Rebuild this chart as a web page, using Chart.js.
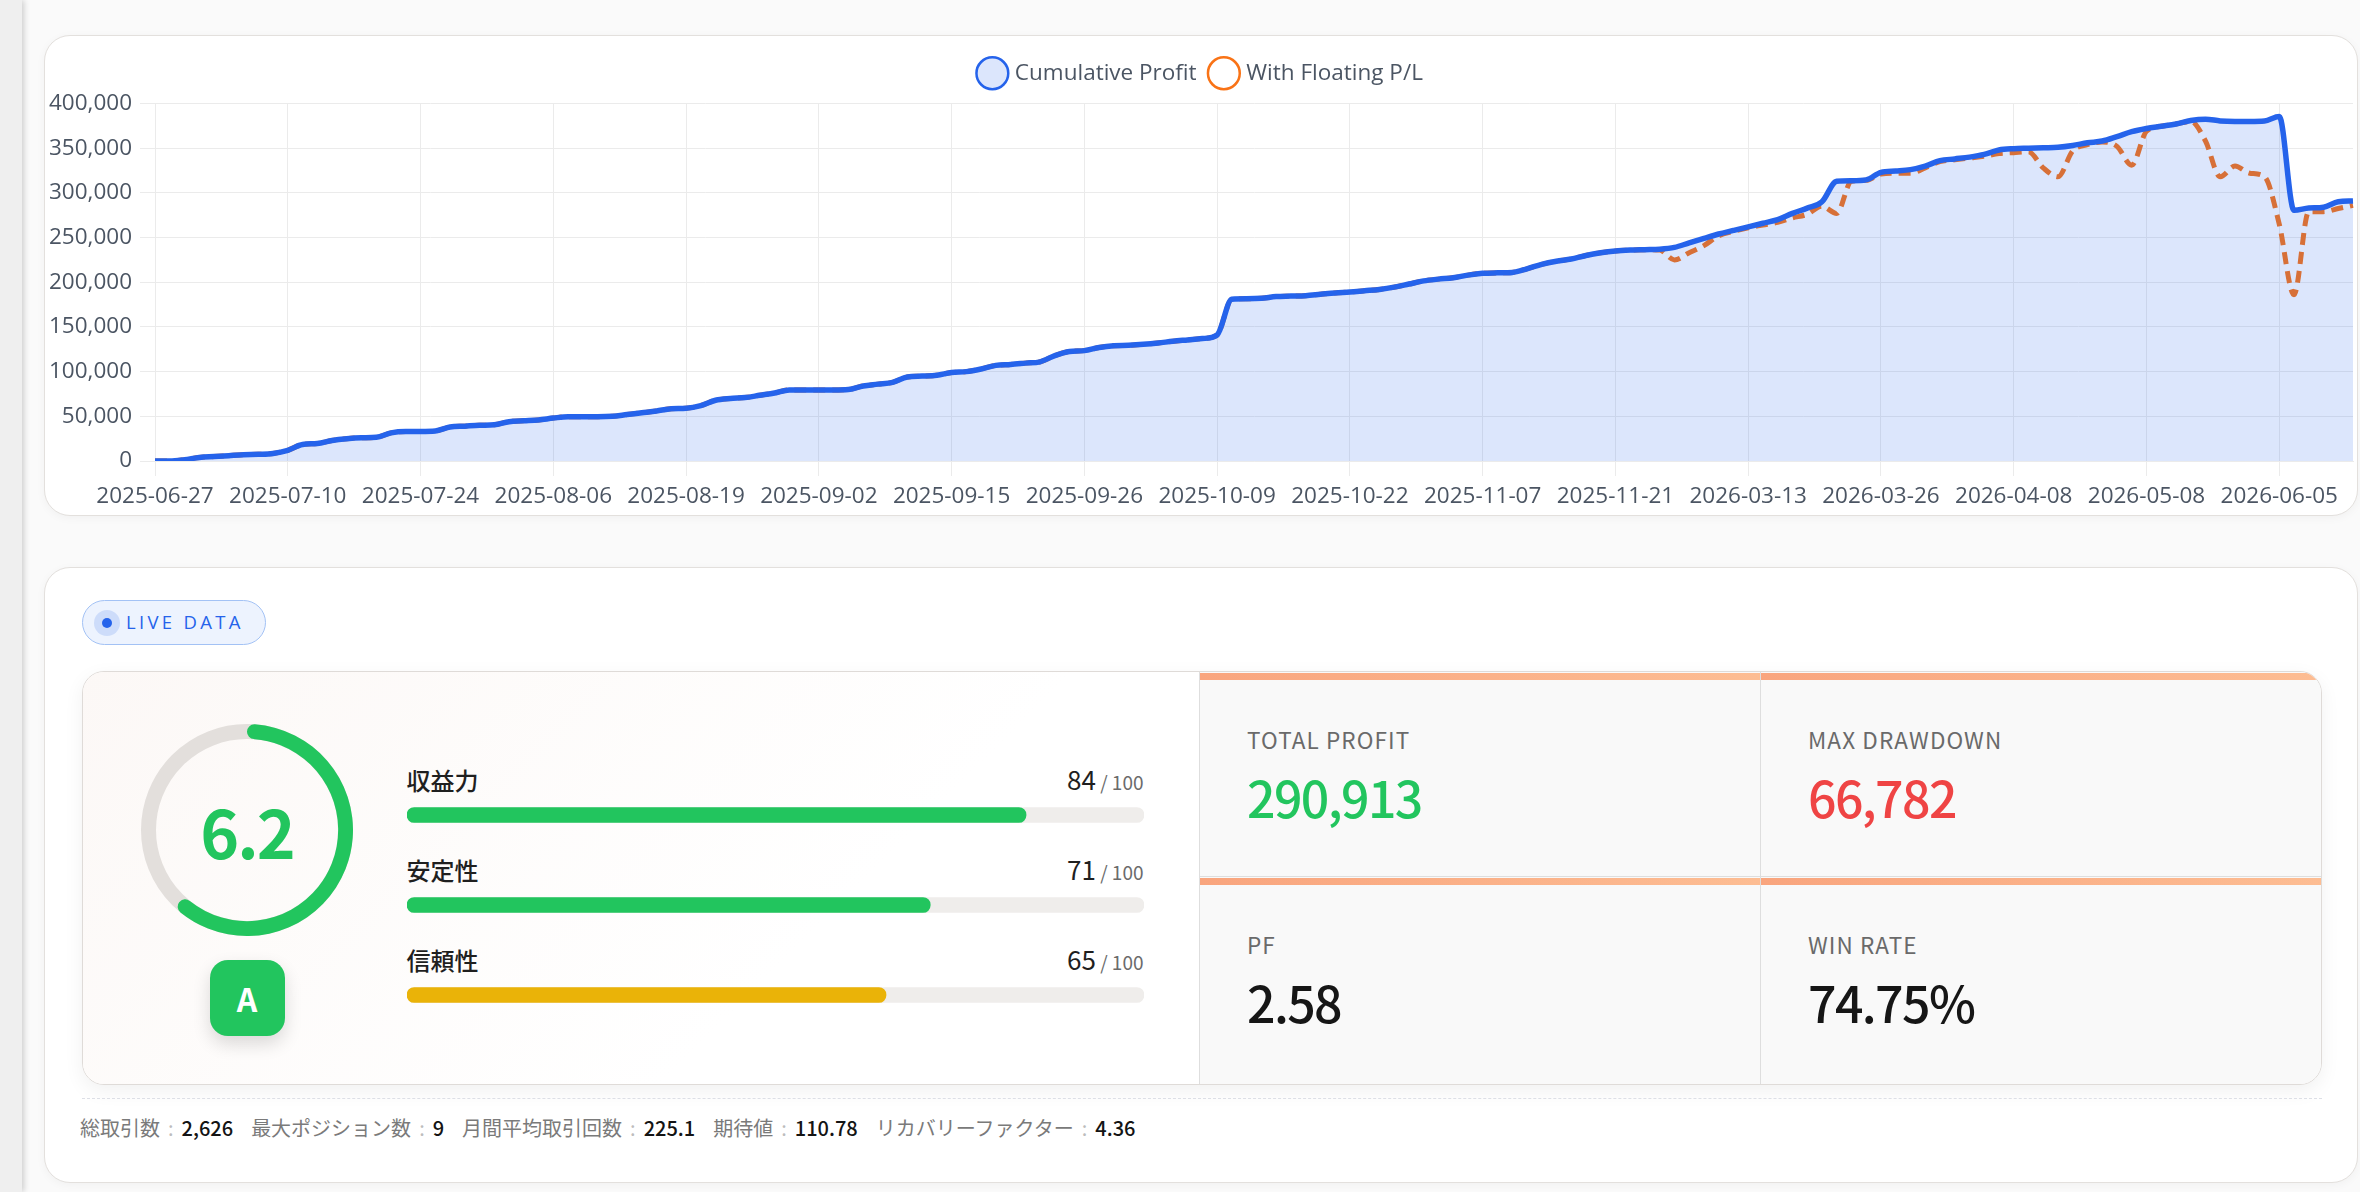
<!DOCTYPE html>
<html lang="ja">
<head>
<meta charset="utf-8">
<title>損益推移</title>
<script src="https://cdn.jsdelivr.net/npm/chart.js@4.4.1/dist/chart.umd.min.js"></script>
<style>
    html, body { margin: 0; padding: 0; }
    body {
        width: 2360px; height: 1192px; overflow: hidden; position: relative;
        background: #fafafa;
        font-family: 'Noto Sans CJK JP', 'Noto Sans', sans-serif;
    }
    .side { position: absolute; left: 0; top: 0; width: 22px; height: 100%; background: #efefef; box-shadow: 2px 0 6px rgba(0,0,0,0.18); }
    .card { position: absolute; left: 44px; width: 2312px; background: #fff; border: 1px solid #e3e0dd; border-radius: 26px; box-shadow: 0 2px 10px rgba(0,0,0,0.04); }
    .chart-card { top: 35px; height: 479px; }
    .chart-box { position: absolute; left: 44px; top: 46px; width: 2316px; height: 471px; }
    .stats-card { top: 567px; height: 614px; }

    .live {
        position: absolute; left: 37px; top: 32px; width: 184px; height: 45px; box-sizing: border-box;
        border: 1.5px solid #a3c2f5; background: #edf3fe; border-radius: 23px;
        color: #2563eb; font-family: 'Open Sans', sans-serif; font-size: 18.5px; letter-spacing: 3.3px;
        line-height: 42px; padding-left: 43px;
    }
    .live .halo { position: absolute; left: 11px; top: 8.5px; width: 26px; height: 26px; border-radius: 50%; background: #cddcfa; }
    .live .dot { position: absolute; left: 19px; top: 16.5px; width: 10px; height: 10px; border-radius: 50%; background: #2563eb; }

    .panel {
        position: absolute; left: 37px; top: 103px; width: 2240px; height: 414px; box-sizing: border-box;
        border: 1.5px solid #dfdbd8; border-radius: 22px; overflow: hidden;
        box-shadow: 0 6px 20px rgba(0,0,0,0.06);
    }
    .score { position: absolute; left: 0; top: 0; width: 1116px; height: 100%; background: linear-gradient(135deg, #fcf8f6 0%, #ffffff 65%); }
    .ring-track { position: absolute; left: 58px; top: 51.5px; width: 212px; height: 212px; box-sizing: border-box; border: 15px solid #e3dfdc; border-radius: 50%; }
    .ring { position: absolute; left: 58px; top: 51.5px; width: 212px; height: 212px; }
    .ring-value { position: absolute; left: 58px; top: 51.5px; width: 212px; height: 212px; display: flex; align-items: center; justify-content: center; color: #22c55e; font-size: 66px; font-weight: 600; letter-spacing: -2px; }
    .grade { position: absolute; left: 126.5px; top: 287.5px; width: 75px; height: 76px; border-radius: 18px; background: #22c55e; color: #fff; font-size: 32px; font-weight: 700; display: flex; align-items: center; justify-content: center; box-shadow: 0 8px 18px rgba(0,0,0,0.14); }
    .bars { position: absolute; left: 323.5px; top: 98px; width: 737px; height: 270px; }
    .bar-row { position: absolute; left: 323.5px; width: 737px; height: 30px; display: flex; justify-content: space-between; align-items: baseline; color: #1f1f1f; }
    .bar-row .name { font-size: 24px; font-weight: 500; }
    .bar-row .num { font-size: 26px; }
    .bar-row .max { font-size: 19px; color: #6b6b6b; }

    .cells { position: absolute; left: 1116px; top: 0; right: 0; bottom: 0; display: grid; grid-template-columns: 1fr 1fr; grid-template-rows: 204px 1fr; }
    .cell { position: relative; background: #f9f9f9; border-left: 1.5px solid #dedede; }
    .cell.r2 { border-top: 1.5px solid #dedede; }
    .cell .bar { position: absolute; left: 0; right: 0; top: 1px; height: 7px; background: linear-gradient(90deg, #f9a57e, #fdbd93); }
    .cell .lbl { position: absolute; left: 47px; top: 56px; font-size: 22.5px; letter-spacing: 1.1px; color: #6a6a6a; line-height: 1; }
    .cell .val { position: absolute; left: 47px; top: 99px; font-size: 50px; font-weight: 500; letter-spacing: -1.6px; color: #161616; line-height: 1; }
    .cell .val.up { color: #22c55e; }
    .cell .val.down { color: #ef4444; }

    .dash { position: absolute; left: 37px; top: 530px; width: 2240px; border-top: 1.5px dashed #dddfe6; }
    .meta { position: absolute; left: 35px; top: 545px; line-height: 30px; font-size: 20px; color: #7a7a7a; white-space: nowrap; }
    .meta b { font-weight: 500; color: #141414; margin-right: 18px; }
    .meta i { font-style: normal; color: #bdbdbd; margin: 0 8px; }
</style>
</head>
<body>

<div class="side"></div>
<div class="card chart-card"></div>
<div class="chart-box"><canvas id="GraficoLucro"></canvas></div>

<div class="card stats-card">
    <div class="live"><span class="halo"></span><span class="dot"></span>LIVE DATA</div>
    <div class="panel">
        <div class="score">
            <div class="ring-track"></div>
            <div class="ring"><canvas id="GraficoNota"></canvas></div>
            <div class="ring-value" id="notaTexto"></div>
            <div class="grade">A</div>
            <div id="linhasBarras"></div>
            <div class="bars"><canvas id="GraficoBarras"></canvas></div>
        </div>
        <div class="cells">
            <div class="cell"><div class="bar"></div><div class="lbl">TOTAL PROFIT</div><div class="val up">290,913</div></div>
            <div class="cell"><div class="bar"></div><div class="lbl">MAX DRAWDOWN</div><div class="val down">66,782</div></div>
            <div class="cell r2"><div class="bar"></div><div class="lbl">PF</div><div class="val">2.58</div></div>
            <div class="cell r2"><div class="bar"></div><div class="lbl">WIN RATE</div><div class="val">74.75%</div></div>
        </div>
    </div>
    <div class="dash"></div>
    <div class="meta">総取引数<i>:</i><b>2,626</b>最大ポジション数<i>:</i><b>9</b>月間平均取引回数<i>:</i><b>225.1</b>期待値<i>:</i><b>110.78</b>リカバリーファクター<i>:</i><b>4.36</b></div>
</div>

<script>
var datas = [
    '2025-06-27', '2025-06-30', '2025-07-01', '2025-07-02', '2025-07-03', '2025-07-04', '2025-07-07', '2025-07-08', '2025-07-09',
    '2025-07-10', '2025-07-11', '2025-07-14', '2025-07-15', '2025-07-16', '2025-07-17', '2025-07-21', '2025-07-22', '2025-07-23',
    '2025-07-24', '2025-07-25', '2025-07-28', '2025-07-29', '2025-07-30', '2025-07-31', '2025-08-01', '2025-08-04', '2025-08-05',
    '2025-08-06', '2025-08-07', '2025-08-08', '2025-08-11', '2025-08-12', '2025-08-13', '2025-08-14', '2025-08-15', '2025-08-18',
    '2025-08-19', '2025-08-20', '2025-08-21', '2025-08-22', '2025-08-25', '2025-08-26', '2025-08-27', '2025-08-28', '2025-08-29',
    '2025-09-02', '2025-09-03', '2025-09-04', '2025-09-05', '2025-09-08', '2025-09-09', '2025-09-10', '2025-09-11', '2025-09-12',
    '2025-09-15', '2025-09-16', '2025-09-17', '2025-09-18', '2025-09-19', '2025-09-22', '2025-09-23', '2025-09-24', '2025-09-25',
    '2025-09-26', '2025-09-29', '2025-09-30', '2025-10-01', '2025-10-02', '2025-10-03', '2025-10-06', '2025-10-07', '2025-10-08',
    '2025-10-09', '2025-10-10', '2025-10-13', '2025-10-14', '2025-10-15', '2025-10-16', '2025-10-17', '2025-10-20', '2025-10-21',
    '2025-10-22', '2025-10-23', '2025-10-27', '2025-10-28', '2025-10-29', '2025-10-30', '2025-11-03', '2025-11-05', '2025-11-06',
    '2025-11-07', '2025-11-10', '2025-11-12', '2025-11-13', '2025-11-14', '2025-11-17', '2025-11-18', '2025-11-19', '2025-11-20',
    '2025-11-21', '2025-11-24', '2025-11-25', '2025-11-26', '2025-11-28', '2026-03-09', '2026-03-10', '2026-03-11', '2026-03-12',
    '2026-03-13', '2026-03-16', '2026-03-17', '2026-03-18', '2026-03-19', '2026-03-20', '2026-03-23', '2026-03-24', '2026-03-25',
    '2026-03-26', '2026-03-27', '2026-03-30', '2026-03-31', '2026-04-01', '2026-04-02', '2026-04-03', '2026-04-06', '2026-04-07',
    '2026-04-08', '2026-04-09', '2026-04-10', '2026-04-14', '2026-04-17', '2026-04-22', '2026-04-24', '2026-04-30', '2026-05-06',
    '2026-05-08', '2026-05-11', '2026-05-13', '2026-05-15', '2026-05-19', '2026-05-22', '2026-05-27', '2026-05-29', '2026-06-02',
    '2026-06-05', '2026-06-08', '2026-06-09', '2026-06-10', '2026-06-11', '2026-06-12'
];

// datas que aparecem no eixo
var datasEixo = [
    '2025-06-27', '2025-07-10', '2025-07-24', '2025-08-06', '2025-08-19', '2025-09-02', '2025-09-15', '2025-09-26', '2025-10-09',
    '2025-10-22', '2025-11-07', '2025-11-21', '2026-03-13', '2026-03-26', '2026-04-08', '2026-05-08', '2026-06-05'
];

var lucroAcumulado = [
    0, 0, 1500, 4000, 5000, 6000, 7000, 7500, 8500,
    12000, 18500, 19500, 23000, 25000, 26000, 26500, 31500, 33000,
    33000, 33500, 38000, 39000, 40000, 40500, 44000, 45000, 46000,
    48000, 49500, 49500, 49500, 50000, 52000, 54000, 56000, 58500,
    59000, 62000, 68000, 70000, 71000, 73500, 76000, 79500, 79500,
    79500, 79500, 80000, 84000, 86000, 88000, 94000, 95000, 96000,
    99000, 100000, 103000, 107000, 108000, 109500, 111000, 118000, 122500,
    123500, 127000, 129000, 129500, 130500, 132000, 134000, 135500, 137000,
    141000, 181000, 181500, 182000, 184000, 184500, 185000, 186500, 188000,
    189000, 190500, 192000, 194500, 198000, 201500, 203500, 205000, 208000,
    210000, 210500, 211000, 215000, 220000, 223500, 226000, 230000, 233000,
    235000, 236000, 236500, 237000, 239000, 244000, 249000, 254000, 258000,
    262000, 266000, 270000, 277000, 283000, 290000, 313000, 313500, 314500,
    323000, 324500, 326000, 330000, 336000, 338000, 340000, 343000, 348000,
    349500, 350000, 350500, 351000, 353000, 356000, 358000, 363000, 368500,
    372000, 374500, 377000, 381000, 382500, 380500, 380000, 380000, 380500,
    385500, 280500, 283000, 284000, 290000, 290913
];

var lucroFlutuante = [
    0, 0, 1500, 4000, 5000, 6000, 7000, 7500, 8500,
    12000, 18500, 19500, 23000, 25000, 26000, 26500, 31500, 33000,
    33000, 33500, 38000, 39000, 40000, 40500, 44000, 45000, 46000,
    48000, 49500, 49500, 49500, 50000, 52000, 54000, 56000, 58500,
    59000, 62000, 68000, 70000, 71000, 73500, 76000, 79500, 79500,
    79500, 79500, 80000, 84000, 86000, 88000, 94000, 95000, 96000,
    99000, 100000, 103000, 107000, 108000, 109500, 111000, 118000, 122500,
    123500, 127000, 129000, 129500, 130500, 132000, 134000, 135500, 137000,
    141000, 181000, 181500, 182000, 184000, 184500, 185000, 186500, 188000,
    189000, 190500, 192000, 194500, 198000, 201500, 203500, 205000, 208000,
    210000, 210500, 211000, 215000, 220000, 223500, 226000, 230000, 233000,
    235000, 236000, 236500, 236000, 225000, 233000, 241000, 252000, 257000,
    261000, 264000, 267000, 272000, 276000, 285000, 277000, 313000, 314000,
    321000, 322000, 322000, 328000, 335000, 337000, 339000, 341000, 344000,
    345000, 346000, 328000, 318000, 347000, 354000, 357000, 352000, 331000,
    369000, 374500, 377000, 380000, 358000, 318000, 330000, 322000, 318000,
    265000, 186000, 279000, 279000, 282500, 286000
];

var notaValor = 6.2;
var notaMaxima = 10;

var indicadores = ['収益力', '安定性', '信頼性'];
var indicadoresValor = [84, 71, 65];
var indicadoresMaximo = [100, 100, 100];
var indicadoresCor = ['#22c55e', '#22c55e', '#eab308'];

var corTexto = '#4b5563';
var corGrade = '#ebebeb';
var fonte = { family: "'Open Sans', 'Noto Sans', sans-serif", size: 22.5 };

// espaço extra abaixo da legenda
var espacoLegenda = {
    id: 'espacoLegenda',
    beforeInit: function (chart) {
        var fitOriginal = chart.legend.fit;
        chart.legend.fit = function () {
            fitOriginal.call(this);
            this.height += 9;
        };
    }
};

function CarregarGraficoLucro() {
    var ctx = document.getElementById('GraficoLucro').getContext('2d');

    var grafico = new Chart(ctx, {
        type: 'line',

        data:
        {
            labels: datas,
            datasets: [
                {
                    label: 'Cumulative Profit',
                    data: lucroAcumulado,
                    borderColor: '#2563eb',
                    backgroundColor: 'rgba(37, 99, 235, 0.16)',
                    borderWidth: 5.5,
                    borderJoinStyle: 'round',
                    fill: 'origin',
                    pointRadius: 0,
                    cubicInterpolationMode: 'monotone'
                },
                {
                    label: 'With Floating P/L',
                    data: lucroFlutuante,
                    borderColor: '#f97316',
                    backgroundColor: 'rgba(0, 0, 0, 0)',
                    borderWidth: 5,
                    borderDash: [12, 7],
                    fill: false,
                    pointRadius: 0,
                    cubicInterpolationMode: 'monotone'
                }
            ]
        },
        plugins: [espacoLegenda],
        options: {
            responsive: true,
            maintainAspectRatio: false,
            animation: false,
            layout: { padding: 0 },
            plugins: {
                legend: {
                    labels: {
                        usePointStyle: true,
                        pointStyle: 'circle',
                        padding: 16,
                        color: corTexto,
                        font: fonte,
                        generateLabels: function (chart) {
                            var itens = Chart.defaults.plugins.legend.labels.generateLabels(chart);
                            itens.forEach(function (item) {
                                item.lineWidth = 2.5;
                                item.lineDash = [];
                            });
                            return itens;
                        }
                    }
                },
                tooltip: { enabled: false }
            },
            scales: {
                x: {
                    grid: {
                        tickLength: 15,
                        color: function (c) {
                            return datasEixo.indexOf(datas[c.index]) >= 0 ? corGrade : 'rgba(0, 0, 0, 0)';
                        }
                    },
                    border: { color: corGrade },
                    ticks: {
                        autoSkip: false,
                        maxRotation: 0,
                        minRotation: 0,
                        padding: 7,
                        color: corTexto,
                        font: fonte,
                        callback: function (valor, i) {
                            var data = datas[i];
                            return datasEixo.indexOf(data) >= 0 ? data : '';
                        }
                    }
                },
                y: {
                    min: 0,
                    max: 400000,
                    afterFit: function (escala) { escala.width = 111; },
                    grid: { tickLength: 15, color: corGrade },
                    border: { color: corGrade },
                    ticks: {
                        stepSize: 50000,
                        padding: 8,
                        color: corTexto,
                        font: fonte,
                        callback: function (valor) { return valor.toLocaleString('en-US'); }
                    }
                }
            }
        }
    });
}

function CarregarGraficoNota() {
    document.getElementById('notaTexto').textContent = notaValor.toFixed(1);

    var ctx = document.getElementById('GraficoNota').getContext('2d');

    var grafico = new Chart(ctx, {
        type: 'doughnut',

        data:
        {
            labels: ['Nota', 'Restante'],
            datasets: [
                {
                    data: [notaValor, notaMaxima - notaValor],
                    backgroundColor: ['#22c55e', 'rgba(0, 0, 0, 0)'],
                    borderWidth: 0,
                    borderRadius: [8, 0],
                    hoverOffset: 0
                }
            ]
        },
        options: {
            responsive: true,
            maintainAspectRatio: false,
            animation: false,
            cutout: '86%',
            plugins: {
                legend: { display: false },
                tooltip: { enabled: false }
            }
        }
    });
}

function CarregarGraficoBarras() {
    var html = '';
    for (var i = 0; i < indicadores.length; i++) {
        html += '<div class="bar-row" style="top:' + (88 + i * 90) + 'px">' +
            '<span class="name">' + indicadores[i] + '</span>' +
            '<span><span class="num">' + indicadoresValor[i] + '</span><span class="max"> / ' + indicadoresMaximo[i] + '</span></span>' +
            '</div>';
    }
    document.getElementById('linhasBarras').innerHTML = html;

    var ctx = document.getElementById('GraficoBarras').getContext('2d');

    var grafico = new Chart(ctx, {
        type: 'bar',

        data:
        {
            labels: indicadores,
            datasets: [
                {
                    data: indicadoresValor,
                    backgroundColor: indicadoresCor,
                    barThickness: 15,
                    borderRadius: 8,
                    borderSkipped: false,
                    grouped: false,
                    order: 0
                },
                {
                    data: indicadoresMaximo,
                    backgroundColor: '#efedeb',
                    barThickness: 15,
                    borderRadius: 8,
                    borderSkipped: false,
                    grouped: false,
                    order: 1
                }
            ]
        },
        options: {
            indexAxis: 'y',
            responsive: true,
            maintainAspectRatio: false,
            animation: false,
            layout: { padding: 0 },
            plugins: {
                legend: { display: false },
                tooltip: { enabled: false }
            },
            scales: {
                x: { display: false, min: 0, max: 100 },
                y: { display: false }
            }
        }
    });
}

CarregarGraficoLucro();
CarregarGraficoNota();
CarregarGraficoBarras();
</script>
</body>
</html>
